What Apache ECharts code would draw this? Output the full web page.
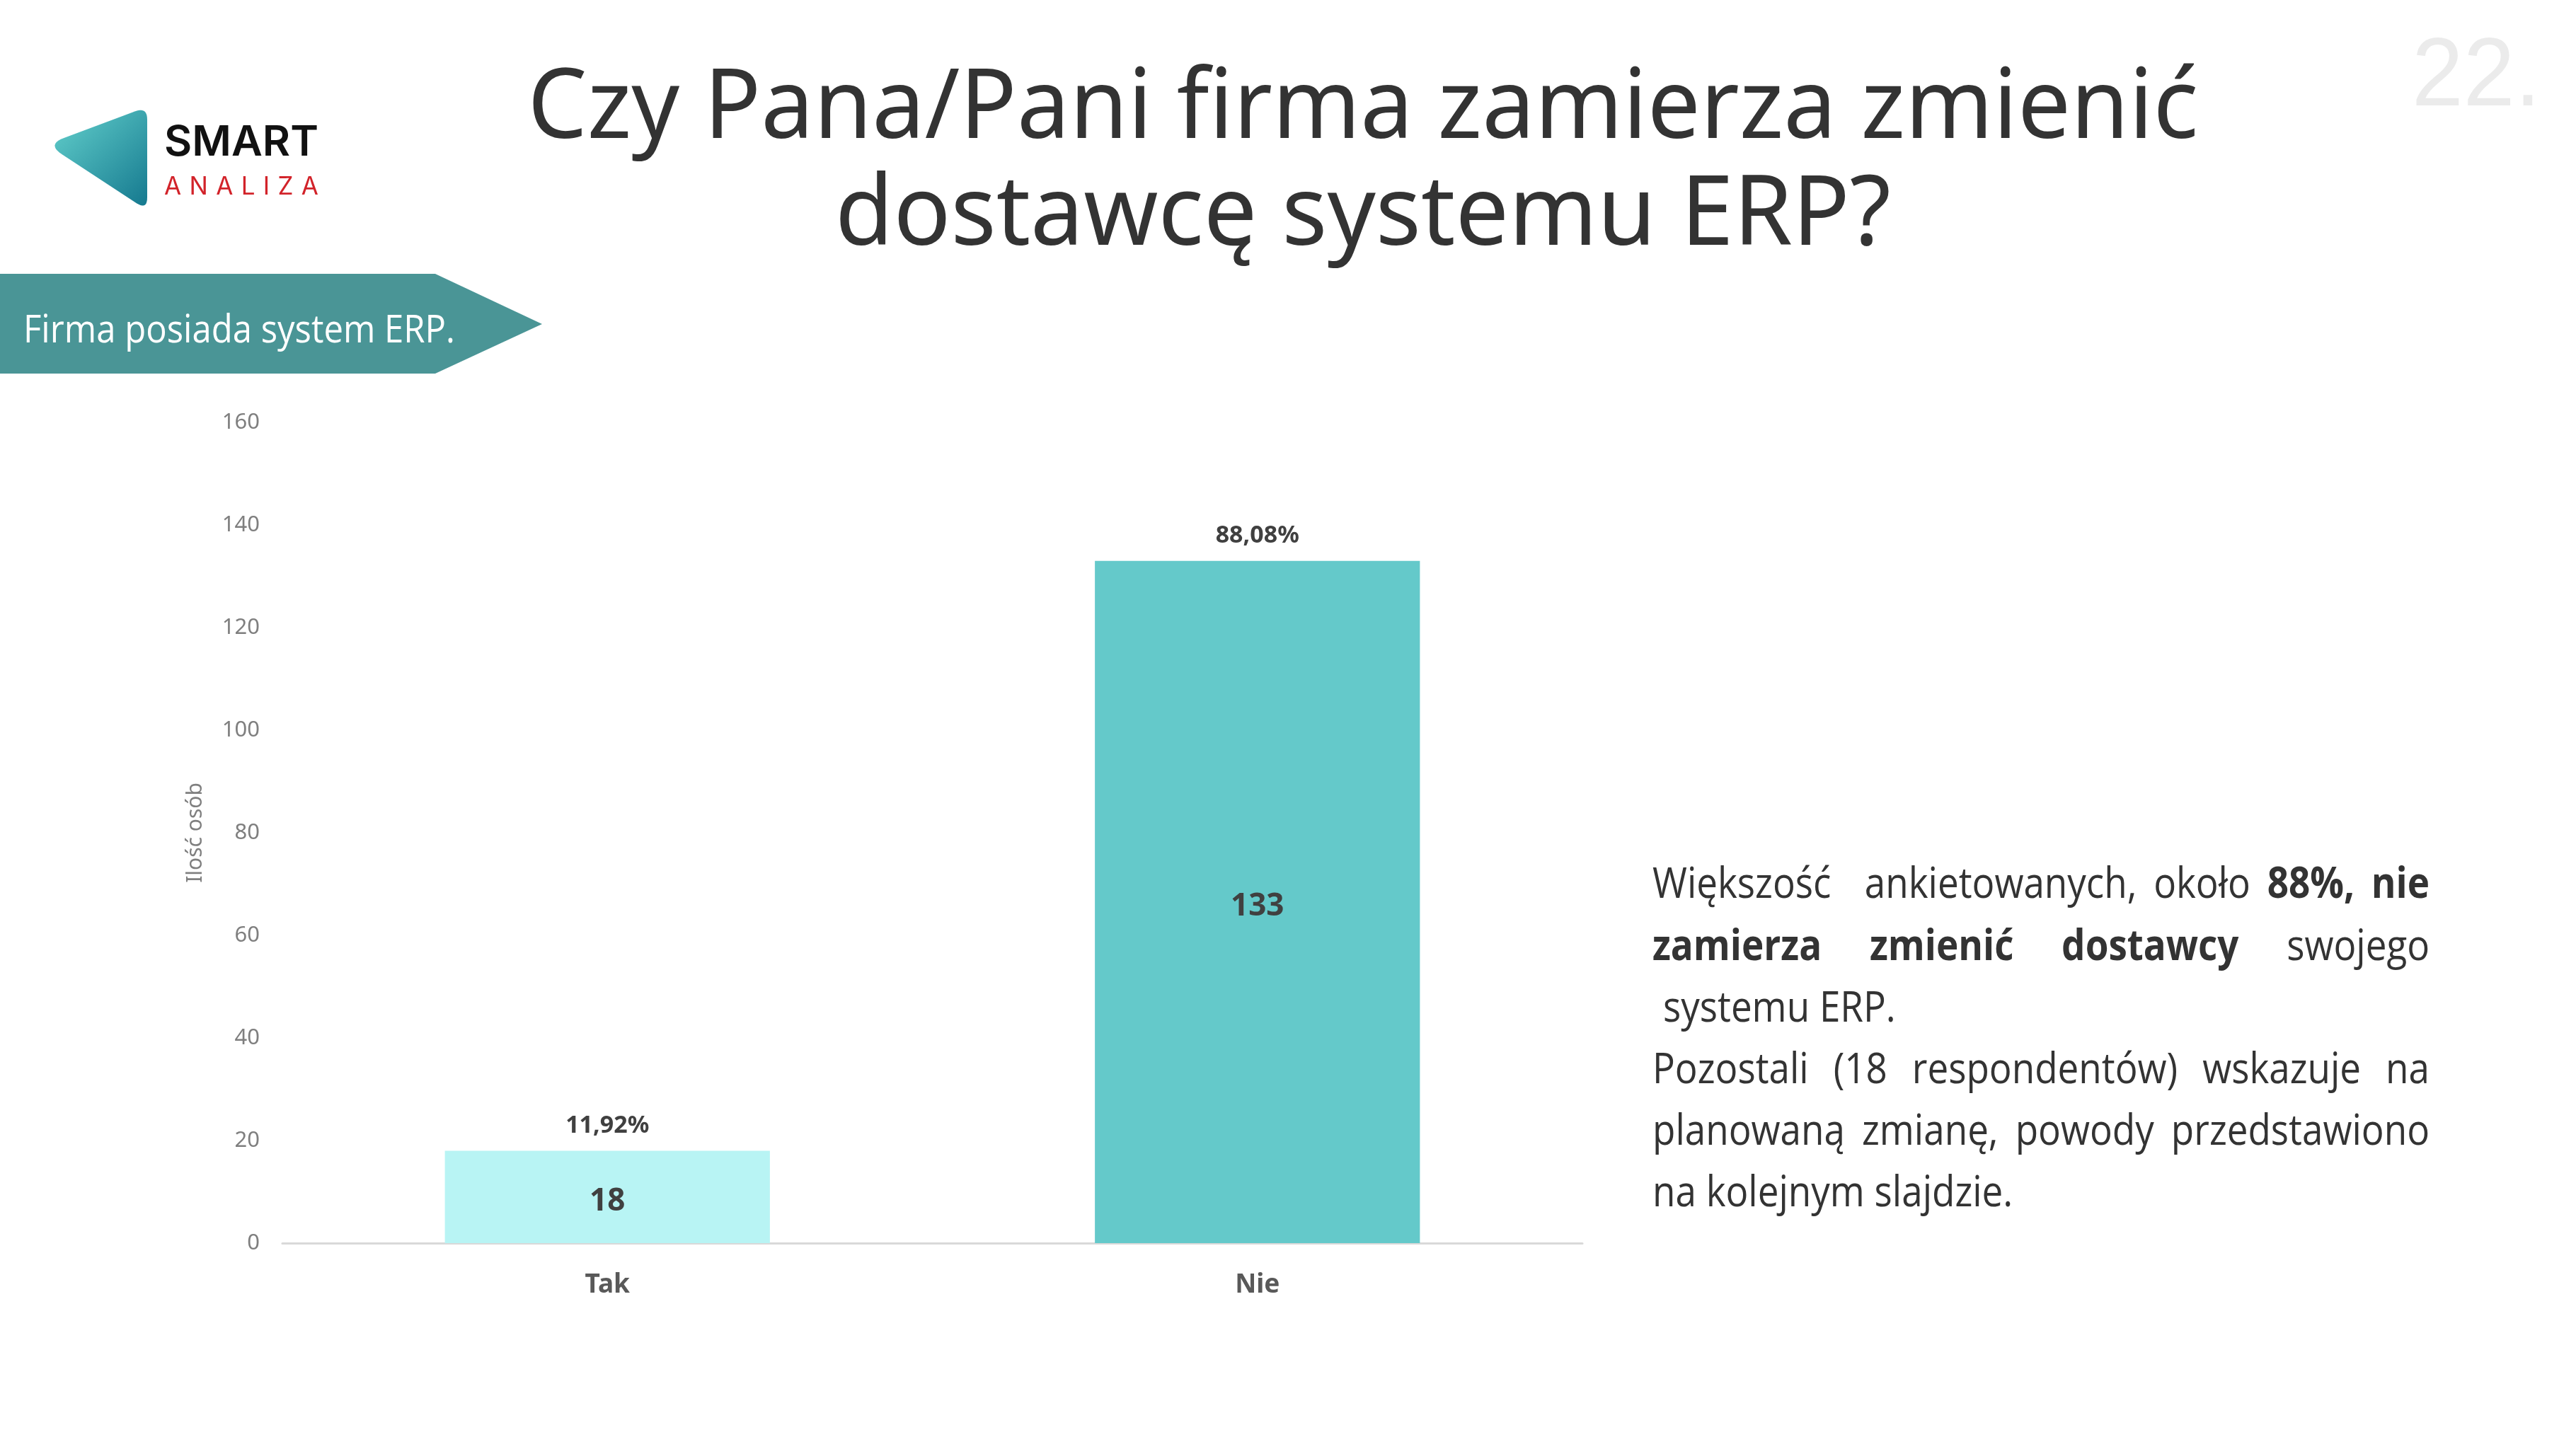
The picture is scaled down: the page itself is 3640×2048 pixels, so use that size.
<!DOCTYPE html>
<html><head><meta charset="utf-8">
<script src="https://cdn.jsdelivr.net/npm/echarts@6/dist/echarts.min.js"></script>
<style>html,body{margin:0;padding:0;background:#fff}#c{width:3640px;height:2048px}</style>
</head><body><div id="c"></div>
<script>
// ---- data ----
const categories = ['Tak', 'Nie'];
const counts = [18, 133];
const yMin = 0, yMax = 160, yInterval = 20;
const axisName = 'Ilość osób';
const titleLines = ['Czy Pana/Pani firma zamierza zmienić', 'dostawcę systemu ERP?'];
const bannerText = 'Firma posiada system ERP.';
const pageNumber = '22.';
const logoTop = 'SMART';
const logoBottom = 'ANALIZA';
// paragraph: words with bold flag ('*' prefix = bold, '' = extra space)
const paraLine1 = ['Większość', '', 'ankietowanych,', 'około', '*88%,', '*nie'];
const paraLine2 = ['*zamierza', '*zmienić', '*dostawcy', 'swojego'];
const paraLine3 = 'systemu ERP.';
const paraLine4 = ['Pozostali', '(18', 'respondentów)', 'wskazuje', 'na'];
const paraLine5 = ['planowaną', 'zmianę,', 'powody', 'przedstawiono'];
const paraLine6 = 'na kolejnym slajdzie.';

// ---- styles ----
const barColors = ['#B8F4F4', '#64C9CA'];
const total = counts.reduce((a, b) => a + b, 0);
const pctLabel = v => (v / total * 100).toFixed(2).replace('.', ',') + '%';

const cv = document.createElement('canvas').getContext('2d');
function tw(text, size, family, weight) {
  cv.font = weight + ' ' + size + 'px ' + family;
  return cv.measureText(text).width;
}
function txt(text, x, baseline, size, family, weight, color, sx, align, midK) {
  return {
    type: 'text', x: x, y: baseline - midK * size, scaleX: sx, silent: true, z: 10,
    style: { text: text, fontSize: size, fontFamily: family, fontWeight: weight, fill: color,
      textAlign: align, textVerticalAlign: 'middle' }
  };
}
function justify(items, x0, x1, baseline, size, family, color, sx, weightOf, textOf, midK) {
  const ws = items.map(it => textOf(it) ? tw(textOf(it), size, family, weightOf(it)) * sx : 0);
  const sum = ws.reduce((a, b) => a + b, 0);
  const gap = (x1 - x0 - sum) / (items.length - 1);
  let x = x0;
  const out = [];
  items.forEach((it, i) => {
    if (textOf(it)) out.push(txt(textOf(it), x, baseline, size, family, weightOf(it), color, sx, 'left', midK));
    x += ws[i] + gap;
  });
  return out;
}
// rounded triangle outline as polygon points
function roundedPoly(pts, radii) {
  const out = [];
  const n = pts.length;
  for (let i = 0; i < n; i++) {
    const p = pts[i], a = pts[(i + n - 1) % n], b = pts[(i + 1) % n];
    const r = radii[i];
    const da = Math.hypot(a[0] - p[0], a[1] - p[1]), db = Math.hypot(b[0] - p[0], b[1] - p[1]);
    const s = [p[0] + (a[0] - p[0]) / da * r, p[1] + (a[1] - p[1]) / da * r];
    const e = [p[0] + (b[0] - p[0]) / db * r, p[1] + (b[1] - p[1]) / db * r];
    for (let k = 0; k <= 10; k++) {
      const t = k / 10;
      out.push([(1 - t) * (1 - t) * s[0] + 2 * t * (1 - t) * p[0] + t * t * e[0],
                (1 - t) * (1 - t) * s[1] + 2 * t * (1 - t) * p[1] + t * t * e[1]]);
    }
  }
  return out;
}

const graphics = [];
// Title
const TF = '"Noto Sans"', TS = 137;
const tCenter = 1926;
const tWidths = [2361, 1492];
const tBase = [196, 347];
titleLines.forEach((l, i) => {
  const s = tWidths[i] / tw(l, TS, TF, 'normal');
  graphics.push(txt(l, tCenter, tBase[i], TS, TF, 'normal', '#333333', s, 'center', 0.29));
});
// Page number
{
  const F = '"Liberation Sans"', S = 138;
  const s = 182 / tw(pageNumber, S, F, 'normal');
  graphics.push(txt(pageNumber, 3408, 159, S, F, 'normal', '#EBEBEB', s, 'left', 0.35));
}
// Logo
graphics.push({
  type: 'polygon', silent: true,
  shape: { points: roundedPoly([[66, 204], [208, 151], [208, 297]], [26, 18, 18]) },
  style: { fill: new echarts.graphic.LinearGradient(0, 0, 1, 1,
    [{ offset: 0, color: '#63D0CC' }, { offset: 1, color: '#15798F' }]) }
});
{
  const F = '"Inter"', S = 59;
  const s = 218 / tw(logoTop, S, F, '600');
  graphics.push(txt(logoTop, 232, 224, S, F, '600', '#111111', s, 'left', 0.36));
  const letters = logoBottom.split('');
  graphics.push(...justify(letters, 232, 450, 277, 35, F, '#D2232A', 1, () => 'normal', t => t, 0.36));
}
// Banner
graphics.push({
  type: 'polygon', silent: true,
  shape: { points: [[0, 387], [615, 387], [766, 458], [615, 528], [0, 528]] },
  style: { fill: '#4A9596' }
});
{
  const F = '"Open Sans"', S = 55;
  const s = 610 / tw(bannerText, S, F, 'normal');
  graphics.push(txt(bannerText, 33, 485, S, F, 'normal', '#FFFFFF', s, 'left', 0.3));
}
// Paragraph
{
  const F = '"Open Sans"', S = 60, C = '#333333';
  const x0 = 2335, x1 = 3433;
  const sp = (511 + 327) / (tw(paraLine6, S, F, 'normal') + tw(paraLine3, S, F, 'normal'));
  const base = i => 1271 + i * 87.2;
  const K = 0.31;
  const wOf = w => w[0] === '*' ? 'bold' : 'normal';
  const tOf = w => w[0] === '*' ? w.slice(1) : w;
  graphics.push(...justify(paraLine1, x0, x1, base(0), S, F, C, sp, wOf, tOf, K));
  graphics.push(...justify(paraLine2, x0, x1, base(1), S, F, C, sp, wOf, tOf, K));
  graphics.push(txt(paraLine3, 2350, base(2), S, F, 'normal', C, sp, 'left', K));
  graphics.push(...justify(paraLine4, x0, x1, base(3), S, F, C, sp, wOf, tOf, K));
  graphics.push(...justify(paraLine5, x0, x1, base(4), S, F, C, sp, wOf, tOf, K));
  graphics.push(txt(paraLine6, x0, base(5), S, F, 'normal', C, sp, 'left', K));
}

const chart = echarts.init(document.getElementById('c'), null, { renderer: 'canvas' });
chart.setOption({
  backgroundColor: '#ffffff',
  animation: false,
  grid: { left: 399, right: 1404, top: 597, bottom: 291, containLabel: false },
  xAxis: {
    type: 'category', data: categories,
    axisLine: { show: true, lineStyle: { color: '#D9D9D9', width: 3 } },
    axisTick: { show: false },
    axisLabel: { fontSize: 37, fontWeight: 'bold', color: '#595959', fontFamily: '"Noto Sans"', margin: 37, lineHeight: 44 }
  },
  yAxis: {
    type: 'value', min: yMin, max: yMax, interval: yInterval,
    name: axisName, nameLocation: 'middle', nameRotate: 90, nameGap: 108,
    nameTextStyle: { fontSize: 30, color: '#7F7F7F', fontFamily: '"Noto Sans"' },
    axisLine: { show: false }, axisTick: { show: false }, splitLine: { show: false },
    axisLabel: { fontSize: 31, color: '#7F7F7F', fontFamily: '"Noto Sans"', margin: 32 }
  },
  series: [
    {
      type: 'bar', barWidth: '50%', silent: true,
      data: counts.map((v, i) => ({ value: v, itemStyle: { color: barColors[i] } })),
      label: { show: true, position: 'inside', offset: [0, 7], fontSize: 44, fontWeight: 'bold', color: '#404040', fontFamily: '"Noto Sans"' }
    },
    {
      type: 'bar', barWidth: '50%', barGap: '-100%', silent: true,
      data: counts.map(v => ({ value: v })),
      itemStyle: { color: 'rgba(0,0,0,0)' },
      label: { show: true, position: 'top', distance: 18, fontSize: 34, fontWeight: 'bold', color: '#404040',
        fontFamily: '"Noto Sans"', formatter: p => pctLabel(p.value) }
    }
  ],
  graphic: graphics
});
</script>
</body></html>
